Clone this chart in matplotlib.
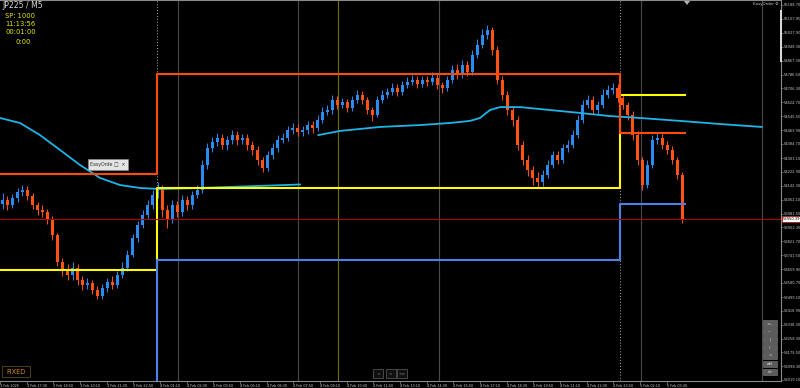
import numpy as np
import matplotlib.pyplot as plt
from matplotlib.patches import Rectangle, Polygon

# JP225 M5, candles grouped by three 5-minute bars, prices
first_open = 54040
close = [54061, 54032, 54072, 54107, 54119, 54084, 54032, 54003, 53991, 53945,
         53858, 53702, 53656, 53627, 53667, 53598, 53569, 53581, 53540, 53505,
         53552, 53586, 53569, 53627, 53667, 53743, 53841, 53916, 53974, 54032,
         54090, 54130, 54003, 53945, 54032, 53991, 54061, 54032, 54090, 54119,
         54263, 54362, 54396, 54420, 54379, 54408, 54437, 54408, 54420, 54379,
         54350, 54292, 54246, 54321, 54362, 54408, 54420, 54466, 54477, 54454,
         54466, 54495, 54477, 54524, 54570, 54582, 54639, 54610, 54628, 54593,
         54639, 54668, 54639, 54582, 54553, 54639, 54668, 54686, 54709, 54686,
         54726, 54744, 54755, 54732, 54755, 54744, 54767, 54726, 54709, 54755,
         54813, 54784, 54842, 54801, 54900, 54958, 55015, 55044, 54929, 54755,
         54668, 54582, 54524, 54379, 54292, 54234, 54188, 54165, 54205, 54263,
         54321, 54292, 54362, 54379, 54437, 54524, 54610, 54639, 54582, 54610,
         54668, 54697, 54709, 54651, 54610, 54553, 54437, 54292, 54148, 54263,
         54408, 54420, 54379, 54350, 54292, 54205, 53950.39]
high = [54100, 54085, 54095, 54130, 54150, 54140, 54100, 54050, 54030, 54010,
        53965, 53870, 53725, 53690, 53700, 53690, 53620, 53610, 53600, 53560,
        53575, 53610, 53620, 53650, 53700, 53770, 53865, 53940, 54000, 54060,
        54120, 54165, 54150, 54030, 54060, 54055, 54090, 54085, 54115, 54150,
        54290, 54390, 54425, 54450, 54445, 54430, 54465, 54460, 54445, 54440,
        54400, 54370, 54310, 54345, 54390, 54435, 54450, 54490, 54505, 54500,
        54490, 54520, 54515, 54550, 54600, 54610, 54670, 54660, 54650, 54645,
        54660, 54695, 54690, 54655, 54600, 54660, 54695, 54710, 54735, 54730,
        54750, 54770, 54785, 54775, 54780, 54775, 54800, 54790, 54745, 54780,
        54840, 54850, 54870, 54865, 54930, 54990, 55050, 55075, 55060, 54950,
        54780, 54690, 54605, 54545, 54400, 54320, 54260, 54220, 54235, 54290,
        54345, 54345, 54385, 54410, 54465, 54550, 54640, 54670, 54660, 54635,
        54700, 54725, 54740, 54730, 54670, 54630, 54575, 54460, 54310, 54290,
        54435, 54450, 54445, 54400, 54370, 54310, 54220]
low = [54010, 54000, 54015, 54050, 54085, 54060, 54010, 53975, 53960, 53920,
       53830, 53680, 53620, 53600, 53600, 53570, 53540, 53545, 53515, 53485,
       53490, 53530, 53545, 53550, 53610, 53650, 53730, 53820, 53900, 53950,
       54010, 54070, 53960, 53900, 53925, 53960, 53970, 54005, 54010, 54070,
       54100, 54240, 54340, 54375, 54355, 54350, 54385, 54380, 54385, 54350,
       54320, 54265, 54220, 54230, 54300, 54340, 54390, 54400, 54445, 54430,
       54430, 54445, 54450, 54460, 54505, 54550, 54560, 54585, 54590, 54570,
       54575, 54620, 54615, 54560, 54520, 54540, 54620, 54650, 54670, 54665,
       54670, 54710, 54725, 54710, 54715, 54720, 54725, 54705, 54680, 54690,
       54740, 54760, 54765, 54780, 54785, 54880, 54940, 54990, 54900, 54730,
       54640, 54555, 54490, 54350, 54265, 54200, 54150, 54130, 54140, 54185,
       54245, 54270, 54275, 54340, 54360, 54420, 54505, 54590, 54560, 54560,
       54590, 54650, 54675, 54625, 54585, 54525, 54410, 54265, 54120, 54130,
       54245, 54385, 54355, 54325, 54270, 54180, 53930]
bars_per_candle = 3

# moving average (two pieces), bar index -> price
ma1_x = [0, 12, 24, 36, 48, 60, 72, 84, 96, 120, 150, 180]
ma1_y = [54535, 54506, 54436, 54350, 54263, 54188, 54147, 54130, 54124, 54130, 54140, 54150]
ma2_x = [191, 204, 228, 252, 270, 282, 288, 294, 300, 312, 330, 348, 366, 384, 408, 432, 457]
ma2_y = [54436, 54460, 54483, 54494, 54506, 54518, 54535, 54581, 54598, 54598, 54581,
         54564, 54546, 54535, 54518, 54500, 54483]

# level lines, stepping at the session boxes
step_x = [0, 94.2, 372, 411]
yellow_lv = [53655, 54130, 54668]
orange_lv = [54211, 54789, 54448]
blue_lv = [52500, 53713, 54037]
last_price = 53950.39

grey_vlines = [106.8, 178.8, 263.4, 384.6, 457.2]
olive_vline = 202.8
dotted_vlines = [94.2, 372]

y_ticks = [55188.70, 55107.90, 55027.90, 54948.30, 54867.30, 54786.50, 54706.30,
           54624.70, 54545.50, 54463.90, 54384.70, 54303.10, 54222.90, 54142.30,
           54062.10, 53981.50, 53902.30, 53821.70, 53741.50, 53659.90, 53580.70,
           53499.10, 53418.90, 53338.30, 53258.30, 53179.50, 53098.30, 53019.10]
x_labels = ["3 Feb 2026", "3 Feb 17:30", "3 Feb 18:50", "3 Feb 20:10", "3 Feb 21:30",
            "3 Feb 22:50", "4 Feb 01:10", "4 Feb 02:30", "4 Feb 03:50", "4 Feb 05:10",
            "4 Feb 06:30", "4 Feb 07:50", "4 Feb 09:10", "4 Feb 10:30", "4 Feb 11:50",
            "4 Feb 13:10", "4 Feb 14:30", "4 Feb 15:50", "4 Feb 17:10", "4 Feb 18:30",
            "4 Feb 19:50", "4 Feb 21:10", "4 Feb 22:30", "4 Feb 23:50", "5 Feb 02:10",
            "5 Feb 03:30"]
buttons = ["<--", "---", "|", "/", "=", "del", "clr"]

W, H = 800, 388
fig = plt.figure(figsize=(8, 3.88), dpi=100, facecolor="black")
ax = fig.add_axes([0, 7 / H, 781 / W, 381 / H], facecolor="black")
ax.set_xlim(0, 468.6)
ax.set_ylim(53013.1, 55217.6)

def px(x, y):
    return x / W, 1 - y / H

for v in grey_vlines:
    ax.axvline(v, color="#4a4a4a", lw=0.8, zorder=1)
ax.axvline(olive_vline, color="#707000", lw=0.8, zorder=1)
for v in dotted_vlines:
    ax.axvline(v, color="#b0b0b0", lw=0.7, ls=(0, (1, 2)), zorder=1)

# candles
close = np.array(close)
opens = np.r_[first_open, close[:-1]]
xc = np.arange(len(close)) * bars_per_candle + 1.5
up = close >= opens
cols = np.where(up, "#2a8cf0", "#ff5214")
ax.vlines(xc, low, high, colors=cols, lw=0.7, zorder=3)
ax.bar(xc, np.abs(close - opens) + 4, bottom=np.minimum(close, opens) - 2,
       width=2.0, color=cols, zorder=3, linewidth=0)

ax.plot(ma1_x, ma1_y, color="#1eb4e8", lw=1.3, zorder=4)
ax.plot(ma2_x, ma2_y, color="#1eb4e8", lw=1.3, zorder=4)

ax.step(step_x, yellow_lv + yellow_lv[-1:], where="post", color="#ffff00", lw=1.5, zorder=5)
ax.step(step_x, orange_lv + orange_lv[-1:], where="post", color="#ff4a0a", lw=1.5, zorder=5)
ax.step(step_x, blue_lv + blue_lv[-1:], where="post", color="#4a80e8", lw=1.5, zorder=5)
ax.axhline(last_price, color="#b00000", lw=0.8, zorder=6)

# axes styling
ax.spines["left"].set_visible(False)
for s in ["top", "right", "bottom"]:
    ax.spines[s].set_color("#8a8a8a")
    ax.spines[s].set_linewidth(0.8)
ax.yaxis.tick_right()
ax.set_yticks(y_ticks)
ax.set_yticklabels([f"{v:.2f}" for v in y_ticks], fontsize=2.6, color="#c8c8c8")
ax.tick_params(axis="y", length=1.5, width=0.5, color="#8a8a8a", pad=0.6)
ax.set_xticks(np.arange(len(x_labels)) * 16)
ax.set_xticklabels(x_labels, fontsize=2.4, color="#c8c8c8", ha="left")
ax.tick_params(axis="x", length=2, width=0.5, color="#8a8a8a", pad=0.5)

# current price tag
ax.text(1.002, last_price, f"{last_price:.2f}", transform=ax.get_yaxis_transform(),
        fontsize=2.6, color="black", va="center", ha="left",
        bbox=dict(boxstyle="square,pad=0.25", fc="white", ec="#c00000", lw=0.5), zorder=10)

# header text
fig.text(*px(2, 5), "JP225 / M5", fontsize=5.6, color="#d8d8d8", va="center")
for (xx, yy), t in zip([(5, 15.5), (5, 24.5), (5, 32.5), (15, 41.5)],
                       ["SP: 1000", "11:13:56", "00:01:00", "0:00"]):
    fig.text(*px(xx, yy), t, fontsize=4.9, color="#e6e600", va="center")
fig.text(*px(779, 4), "EasyOrder \u2699", fontsize=2.9, color="#c8c8c8", ha="right", va="center")

# scrollbar thumb and shift marker
fig.patches.append(Rectangle(px(780, 62), 2 / W, 52 / H, transform=fig.transFigure,
                             fc="#d8d8d8", ec="none"))
fig.patches.append(Polygon([px(684, 1), px(690, 1), px(687, 5)], closed=True,
                           transform=fig.transFigure, fc="#b0b0b0", ec="none"))

# EasyOrder mini panel
fig.patches.append(Rectangle(px(88, 170), 40 / W, 11 / H, transform=fig.transFigure,
                             fc="#e4e4e4", ec="#909090", lw=0.4, zorder=8))
fig.text(*px(90, 164.5), "EasyOrde \u25a1  \u00d7", fontsize=3.4, color="#303030",
         va="center", zorder=9)

# FIXED label
fig.patches.append(Rectangle(px(2, 377), 28 / W, 11 / H, transform=fig.transFigure,
                             fc="black", ec="#5a4a10", lw=0.6))
fig.text(*px(16, 371.5), "FIXED", fontsize=4.8, color="#d88a20", ha="center", va="center")

# scroll buttons
for bx, t in zip([373, 385.5, 397], ["<", ">", ">>"]):
    fig.patches.append(Rectangle(px(bx, 378), 10 / W, 9 / H, transform=fig.transFigure,
                                 fc="#101010", ec="#505050", lw=0.6))
    fig.text(*px(bx + 5, 373.5), t, fontsize=3.2, color="#909090", ha="center", va="center")

# drawing tool buttons
for k, t in enumerate(buttons):
    top = 320 + k * 8.1
    fig.patches.append(Rectangle(px(763, top + 6.8), 14 / W, 6.8 / H, transform=fig.transFigure,
                                 fc="#5c5c5c", ec="#808080", lw=0.4))
    fig.text(*px(770, top + 3.4), t, fontsize=3.0, color="#e8e8e8", ha="center", va="center")

fig.savefig("out.png", dpi=100, facecolor="black")
